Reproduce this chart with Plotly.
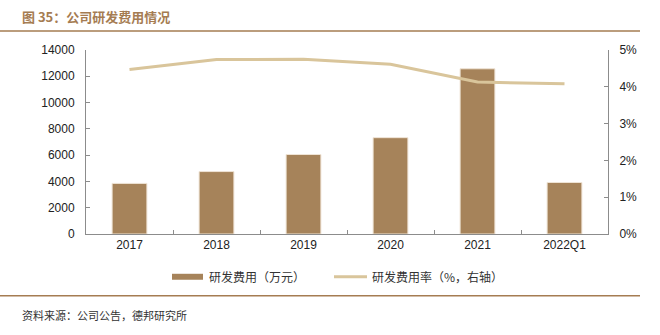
import plotly.graph_objects as go

categories = ["2017", "2018", "2019", "2020", "2021", "2022Q1"]
rd_expense = [3850, 4750, 6050, 7330, 12570, 3920]          # 万元
rd_ratio = [4.47, 4.74, 4.75, 4.61, 4.13, 4.08]            # %

bar_color = "#A6835A"
line_color = "#D9C59B"
brown = "#A57C52"
axis_grey = "#8C8C8C"
tick_font = dict(family="Liberation Sans, Arial", size=12, color="#222222")
cjk = "Noto Sans CJK SC"

fig = go.Figure()
fig.add_trace(go.Bar(
    x=categories, y=rd_expense, name="研发费用（万元）",
    marker=dict(color=bar_color, line=dict(color="#EFE4D6", width=1)),
    width=0.4, yaxis="y", showlegend=False,
))
fig.add_trace(go.Scatter(
    x=categories, y=rd_ratio, name="研发费用率（%，右轴）",
    mode="lines", line=dict(color=line_color, width=3),
    yaxis="y2", showlegend=False,
))

fig.update_layout(
    width=660, height=335,
    margin=dict(l=86, r=52, t=50, b=101),
    paper_bgcolor="white", plot_bgcolor="white",
    xaxis=dict(
        type="category", showline=True, linecolor=axis_grey, linewidth=1,
        ticks="inside", tickson="boundaries", ticklen=4, tickcolor=axis_grey,
        tickfont=tick_font, showgrid=False, zeroline=False,
    ),
    yaxis=dict(
        range=[0, 14000], dtick=2000, tickformat="d", showline=True,
        linecolor=axis_grey, ticks="inside", ticklen=4, tickcolor=axis_grey,
        tickfont=tick_font, showgrid=False, zeroline=False, ticklabelstandoff=8,
    ),
    yaxis2=dict(
        range=[0, 5], dtick=1, overlaying="y", side="right", showline=True,
        linecolor=axis_grey, ticks="inside", ticklen=4, tickcolor=axis_grey,
        tickfont=tick_font, ticksuffix="%", showgrid=False, zeroline=False,
        ticklabelstandoff=8,
    ),
    bargap=0.6,
)

shapes = [
    # header and footer rules
    dict(type="line", xref="paper", yref="paper", x0=-86/522, x1=(640-86)/522,
         y0=1 + (50-31)/185, y1=1 + (50-31)/185, line=dict(color=brown, width=1.5)),
    dict(type="line", xref="paper", yref="paper", x0=-86/522, x1=(640-86)/522,
         y0=-(297-235)/185, y1=-(297-235)/185, line=dict(color=brown, width=1.5)),
    # legend swatches
    dict(type="rect", xref="paper", yref="paper",
         x0=(172-86)/522, x1=(203-86)/522,
         y0=-(281-235)/185, y1=-(275-235)/185,
         fillcolor=bar_color, line=dict(width=0)),
    dict(type="line", xref="paper", yref="paper",
         x0=(334-86)/522, x1=(367-86)/522,
         y0=-(278-235)/185, y1=-(278-235)/185,
         line=dict(color=line_color, width=3)),
]
fig.update_layout(shapes=shapes)

annotations = [
    dict(text="<b>图 35：公司研发费用情况</b>", xref="paper", yref="paper",
         x=-(86-20)/522, y=1 + (50-16)/185, xanchor="left", yanchor="middle",
         showarrow=False, font=dict(family=cjk, size=13, color=brown)),
    dict(text="研发费用（万元）", xref="paper", yref="paper",
         x=(207-86)/522, y=-(278-235)/185, xanchor="left", yanchor="middle",
         showarrow=False, font=dict(family=cjk, size=12, color="#333333")),
    dict(text="研发费用率（%，右轴）", xref="paper", yref="paper",
         x=(370-86)/522, y=-(278-235)/185, xanchor="left", yanchor="middle",
         showarrow=False, font=dict(family=cjk, size=12, color="#333333")),
    dict(text="资料来源：公司公告，德邦研究所", xref="paper", yref="paper",
         x=-(86-20)/522, y=-(316-235)/185, xanchor="left", yanchor="middle",
         showarrow=False, font=dict(family=cjk, size=11, color="#333333")),
]
fig.update_layout(annotations=annotations)

fig.write_html("out.html")
